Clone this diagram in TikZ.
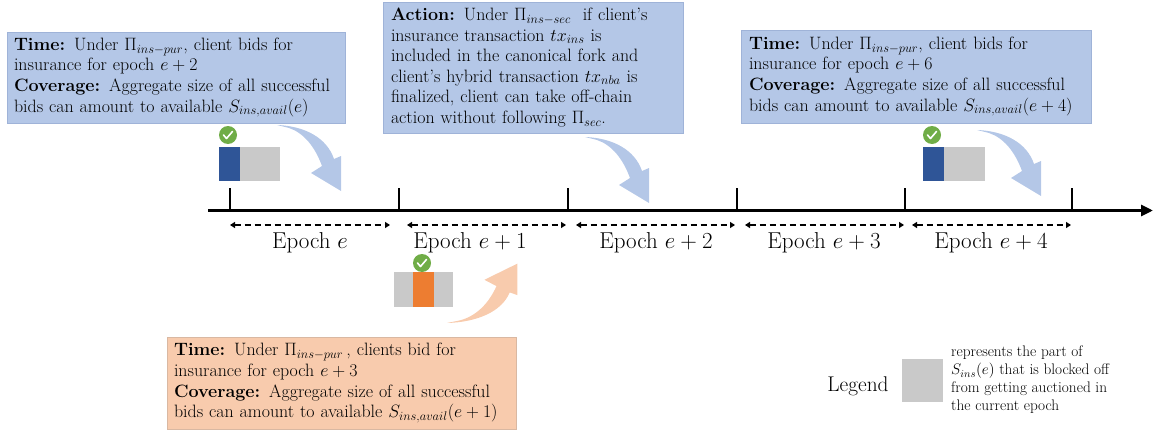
\RequirePackage{fix-cm}
\documentclass[tikz,border=0pt]{standalone}
\usetikzlibrary{arrows.meta}
\definecolor{boxblue}{HTML}{B4C7E7}
\definecolor{boxblueedge}{HTML}{9FB3D8}
\definecolor{boxorange}{HTML}{F8CBAD}
\definecolor{boxorangeedge}{HTML}{D9B8A2}
\definecolor{bidblue}{HTML}{2F5597}
\definecolor{bidorange}{HTML}{ED7D31}
\definecolor{blockgrey}{HTML}{C9C9C9}
\definecolor{okgreen}{HTML}{70AD47}
\newcommand{\fullline}[1]{\hbox to 284pt{#1}}
\tikzset{
  bendarrow/.pic={
    \path[pic actions] (0,0) .. controls (28,1) and (50,13) .. (57,34)
      -- (64,31) -- (64,66) -- (34,48) -- (45,41)
      .. controls (38,22) and (27,8) .. (12,3) -- cycle;
  }
}
\begin{document}
\begin{tikzpicture}[x=1pt,y=-1pt,
  infobox/.style={draw, line width=0.6pt, inner xsep=7pt, inner ysep=0pt, align=left,
    font=\fontsize{17.9}{20.6}\selectfont, anchor=center},
  epochlabel/.style={font=\fontsize{23}{26}\selectfont, inner sep=0pt},
  dasharrow/.style={line width=1.8pt, dash pattern=on 6.5pt off 3.5pt,
    {Triangle[length=5pt,width=6pt]}-{Triangle[length=5pt,width=6pt]}},
  tickline/.style={line width=2.8pt},
  checkcircle/.style={circle, fill=okgreen, minimum size=18pt, inner sep=0pt},
  checkmark/.style={white, line width=1.6pt, line cap=round, line join=round}
]
\useasboundingbox (0,0) rectangle (1153,436);

% curved arrows
\pic[fill=boxblue] at (277,125) {bendarrow};
\pic[fill=boxblue] at (585,137) {bendarrow};
\pic[fill=boxblue] at (977,130) {bendarrow};
\pic[fill=boxorange, xscale=1.1, yscale=-0.9] at (447,323) {bendarrow};

% info boxes
\node[infobox, fill=boxblue, draw=boxblueedge, text width=324pt, minimum height=91pt] (timeA) at (176,77.5)
 {\textbf{Time:} Under $\Pi_{ins-pur}$, client bids for\\
  insurance for epoch $e+2$\\
  \textbf{Coverage:} Aggregate size of all successful\\
  bids can amount to available $S_{ins,avail}(e)$};

\node[infobox, fill=boxblue, draw=boxblueedge, inner xsep=8pt, text width=284pt, minimum height=131pt] (action) at (533,67.5)
 {\fullline{\textbf{Action:} Under $\Pi_{ins-sec}$\ \ if client’s}
  \fullline{insurance transaction $tx_{ins}$ is}
  \fullline{included in the canonical fork and}
  \fullline{client’s hybrid transaction $tx_{nba}$ is}
  \fullline{finalized, client can take off-chain}
  \fullline{action without following $\Pi_{sec}$.\hfil}};

\node[infobox, fill=boxblue, draw=boxblueedge, inner xsep=8pt, text width=334pt, minimum height=93pt] (timeC) at (916,76.5)
 {\textbf{Time:} Under $\Pi_{ins-pur}$, client bids for\\
  insurance for epoch $e+6$\\
  \textbf{Coverage:} Aggregate size of all successful\\
  bids can amount to available $S_{ins,avail}(e+4)$};

\node[infobox, fill=boxorange, draw=boxorangeedge, text width=335pt, minimum height=92pt] (timeB) at (341.5,383)
 {\textbf{Time:} Under $\Pi_{ins-pur}$\,, clients bid for\\
  insurance for epoch $e+3$\\
  \textbf{Coverage:} Aggregate size of all successful\\
  bids can amount to available $S_{ins,avail}(e+1)$};

% bid squares
\fill[bidblue] (219,147) rectangle (240,181);
\fill[blockgrey] (240,147) rectangle (280,181);
\fill[bidblue] (923,147) rectangle (944,181);
\fill[blockgrey] (944,147) rectangle (985,181);
\fill[blockgrey] (394,272) rectangle (453,307);
\fill[bidorange] (413,272) rectangle (434,307);

% check marks
\foreach \n/\cx/\cy in {ckA/228/135, ckC/932/135, ckB/422/263}{
  \node[checkcircle] (\n) at (\cx,\cy) {};
  \draw[checkmark] ([shift={(-4.5,0)}]\n.center) -- ++(3,3.5) -- ++(6,-7);
}

% timeline
\coordinate (lstart) at (208,210.5);
\coordinate (lend) at (1153,210.5);
\draw[line width=3.3pt, -{Triangle[length=12pt,width=11pt]}] (lstart) -- (lend);
\foreach \i/\tx in {0/230, 1/399, 2/568, 3/737, 4/905, 5/1072}{
  \coordinate (t\i) at (\tx,211);
  \draw[tickline] (t\i) -- ++(0,-23);
}

% epoch spans
\foreach \i/\a/\b in {0/230/390, 1/407/566, 2/576/735, 3/745/904, 4/912/1071}{
  \coordinate (da\i) at (\a,225);
  \coordinate (db\i) at (\b,225);
  \draw[dasharrow] (da\i) -- (db\i);
}
\node[epochlabel] (ep0) at (310,243) {Epoch $e$};
\node[epochlabel] (ep1) at (470,243) {Epoch $e+1$};
\node[epochlabel] (ep2) at (656,243) {Epoch $e+2$};
\node[epochlabel] (ep3) at (824,243) {Epoch $e+3$};
\node[epochlabel] (ep4) at (991,243) {Epoch $e+4$};

% legend
\node[font=\fontsize{21.3}{25}\selectfont, inner sep=0pt] (legend) at (858,386) {Legend};
\fill[blockgrey] (902,359) rectangle (943,402);
\node[anchor=west, align=left, inner sep=0pt, font=\fontsize{15.3}{18}\selectfont] (legtext) at (951,380)
 {represents the part of\\
  $S_{ins}(e)$ that is blocked off\\
  from getting auctioned in\\
  the current epoch};
\end{tikzpicture}
\end{document}
